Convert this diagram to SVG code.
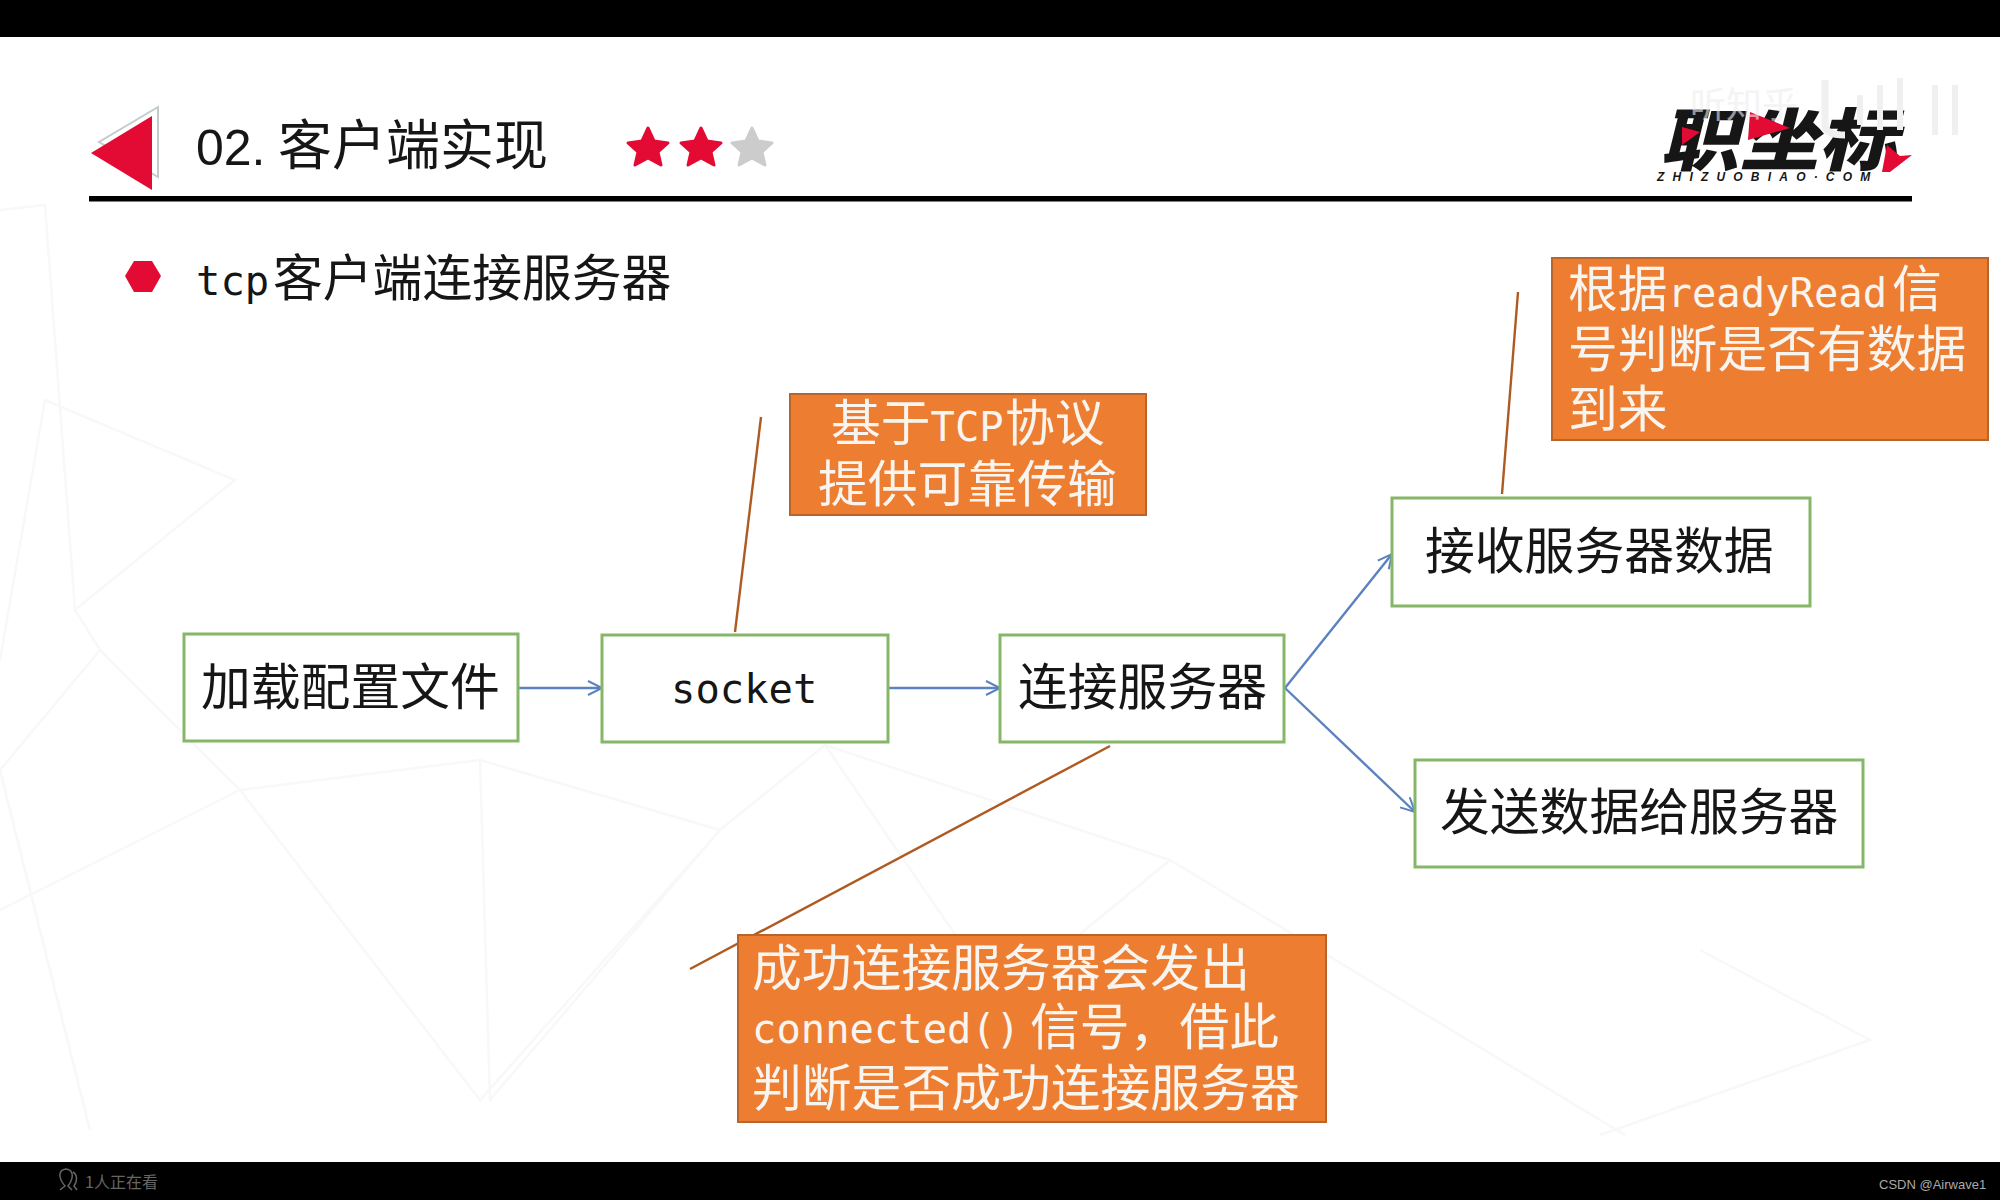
<svg xmlns="http://www.w3.org/2000/svg" width="2000" height="1200" viewBox="0 0 2000 1200">
<defs>
<marker id="arr" markerUnits="userSpaceOnUse" markerWidth="20" markerHeight="20" refX="15" refY="8" orient="auto" overflow="visible"><path d="M1 1L15 8L1 15" fill="none" stroke="#5b82c0" stroke-width="2"/></marker>
<style>
text{font-family:"Noto Sans CJK SC","Noto Sans",sans-serif;fill:#161616}
.m{font-family:"DejaVu Sans Mono","Noto Sans CJK SC",monospace}
.n{font-size:49.800px}.l{font-size:40.500px}
.box{fill:#fff;stroke:#86b768;stroke-width:3}
.or{fill:#ed7d31;stroke:#b8652c;stroke-width:2}
.w{fill:#f8f4ef}
.bl{fill:none;stroke:#5b82c0;stroke-width:2.4;marker-end:url(#arr)}
.br{fill:none;stroke:#ae5a21;stroke-width:2.4}
.bg{fill:none;stroke:#f9f8f8;stroke-width:2.500}
.st{stroke-width:3;stroke-linejoin:round}
</style>
</defs>
<rect width="2000" height="1200" fill="#fff"/>
<g class="bg">
<path d="M0 210L45 205L75 610L235 480L45 400L0 660M75 610L100 650L0 770L90 1130M100 650L240 790L480 760L720 830L480 1100L240 790M480 760L490 1100L720 830L825 745L1000 1000L1170 860L1625 1135M825 745L1170 860M0 910L240 790"/>
<path d="M1700 950L1870 1040L1600 1135M1170 860L1000 1000L1320 1100"/>
</g>
<g id="header">
<rect width="2000" height="37" fill="#000"/>
<polygon points="158,107 99,142 158,177" fill="#fff" stroke="#c4cbcb" stroke-width="2"/>
<polygon points="152,116 152,190 91,153" fill="#e30a33"/>
<text x="196" y="165" font-size="50" style="font-family:'Liberation Sans',sans-serif">02.</text>
<text x="278" y="165" font-size="54">客户端实现</text>
<polygon class="st" id="s1" points="648,128 654,141 668,143 658,152 661,165 648,158 635,165 638,152 628,143 642,141" fill="#e30a33" stroke="#e30a33"/>
<polygon class="st" id="s2" points="701,128 707,141 721,143 711,152 714,165 701,158 688,165 691,152 681,143 695,141" fill="#e30a33" stroke="#e30a33"/>
<polygon class="st" id="s3" points="752,128 758,141 772,143 762,152 765,165 752,158 739,165 742,152 732,143 746,141" fill="#cccccc" stroke="#cccccc"/>
<rect x="89" y="196" width="1823" height="5.500" fill="#000"/>
</g>
<g id="logo">
<text x="1660" y="165" font-weight="900" transform="skewX(-14)" style="font-size:68px" dx="41" textLength="238" lengthAdjust="spacingAndGlyphs">职坐标</text>
<polygon points="1682,127 1700,132 1682,145" fill="#e30a33"/>
<polygon points="1750,112 1790,128 1748,140" fill="#e30a33"/>
<polygon points="1887,145 1900,156 1912,155 1890,172 1882,172" fill="#e30a33"/>
<text x="1657" y="181" font-size="12" font-weight="700" font-style="italic" letter-spacing="8.200" style="font-family:'Liberation Sans',sans-serif">ZHIZUOBIAO·COM</text>
<text x="1690" y="118" font-size="36" style="fill:#eeeeee" opacity=".6">听知乎</text>
<path d="M1825 80V125Q1825 135 1845 135" fill="none" stroke="#f0f0f0" stroke-width="7"/>
<path d="M1860 95V125M1880 85V130M1900 78V130M1935 85V135M1955 85V135" fill="none" stroke="#f0f0f0" stroke-width="6"/>
</g>
<g id="bullet">
<polygon points="134,261 152,261 161,276 152,292 134,292 125,276" fill="#e30a33"/>
<text class="m" x="196" y="295" font-size="40.500">tcp</text>
<text x="273" y="296" font-size="49.800">客户端连接服务器</text>
</g>
<g id="connectors">
<path class="bl" d="M518 688H602"/>
<path class="bl" d="M888 688H1000"/>
<path class="bl" d="M1285 688L1392 554"/>
<path class="bl" d="M1285 688L1415 812"/>
<path class="br" d="M761 417L735 632"/>
<path class="br" d="M1518 292L1502 494"/>
<path class="br" d="M1110 746L690 969"/>
</g>
<g id="n-load"><rect class="box" x="184" y="634" width="334" height="107"/><text class="n" x="201" y="705">加载配置文件</text></g>
<g id="n-socket"><rect class="box" x="602" y="635" width="286" height="107"/><text class="m l" x="671" y="703">socket</text></g>
<g id="n-connect"><rect class="box" x="1000" y="635" width="284" height="107"/><text class="n" x="1018" y="705">连接服务器</text></g>
<g id="n-recv"><rect class="box" x="1392" y="498" width="418" height="108"/><text class="n" x="1425" y="569">接收服务器数据</text></g>
<g id="n-send"><rect class="box" x="1415" y="760" width="448" height="107"/><text class="n" x="1440" y="830">发送数据给服务器</text></g>
<g id="note-tcp"><rect class="or" x="790" y="394" width="356" height="121"/>
<text class="w n" x="831" y="441">基于<tspan class="m l">TCP</tspan><tspan x="1005">协议</tspan></text>
<text class="w n" x="818" y="502">提供可靠传输</text></g>
<g id="note-read"><rect class="or" x="1552" y="258" width="436" height="182"/>
<text class="w n" x="1568" y="307">根据<tspan class="m l">readyRead</tspan><tspan x="1892">信</tspan></text>
<text class="w n" x="1568" y="367">号判断是否有数据</text>
<text class="w n" x="1568" y="427">到来</text></g>
<g id="note-conn"><rect class="or" x="738" y="935" width="588" height="187"/>
<text class="w n" x="752" y="986">成功连接服务器会发出</text>
<text class="w n" x="752" y="1045"><tspan class="m l" dy="-2">connected()</tspan><tspan x="1030" dy="2">信号，借此</tspan></text>
<text class="w n" x="752" y="1106">判断是否成功连接服务器</text></g>
<g id="footer">
<rect y="1162" width="2000" height="38" fill="#000"/>
<path d="M60 1190L65 1186C58 1178 58 1170 66 1169C74 1170 74 1178 68 1186L72 1190M73 1172C78 1175 77 1182 74 1186L77 1190" fill="none" stroke="#666" stroke-width="1.500"/>
<text x="85" y="1188" font-size="16" style="fill:#666">1人正在看</text>
<text x="1879" y="1189" font-size="13" style="fill:#aaa;font-family:'Liberation Sans',sans-serif">CSDN @Airwave1</text>
</g>
</svg>
